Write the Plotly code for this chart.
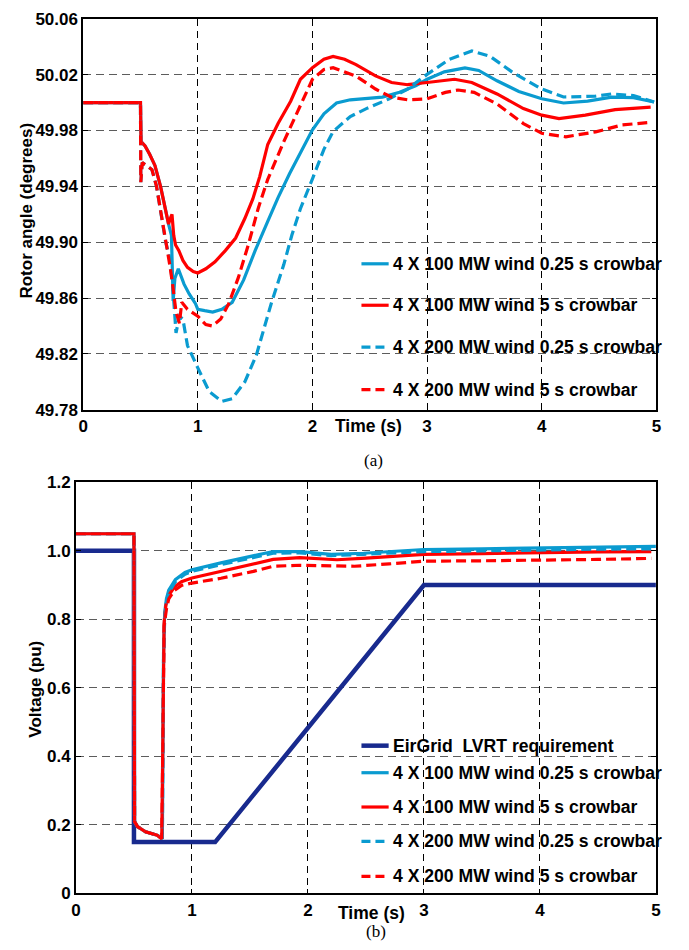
import plotly.graph_objects as go

# ---------------- (a) rotor angle ----------------
t_a_100_fast = [0, 0.5, 0.505, 0.54, 0.58, 0.626, 0.675, 0.71, 0.745, 0.77, 0.785, 0.80, 0.83,
                0.88, 0.925, 0.98, 1.0, 1.06, 1.13, 1.21, 1.3, 1.4, 1.5, 1.61, 1.7, 1.8, 1.895,
                2.0, 2.1, 2.21, 2.33, 2.45, 2.61, 2.76, 2.9, 3.0, 3.15, 3.33, 3.45, 3.61, 3.8,
                4.0, 4.19, 4.4, 4.61, 4.8, 4.98]
a_100_fast = [50.0, 50.0, 49.972, 49.969, 49.963, 49.955, 49.940, 49.926, 49.913, 49.905, 49.858,
              49.874, 49.881, 49.870, 49.863, 49.856, 49.852, 49.851, 49.850, 49.852, 49.857,
              49.873, 49.894, 49.915, 49.932, 49.949, 49.964, 49.9805, 49.992, 49.9997, 50.002,
              50.003, 50.0039, 50.0074, 50.012, 50.0167, 50.022, 50.0249, 50.023, 50.0156,
              50.008, 50.0027, 49.9997, 50.001, 50.0039, 50.0035, 50.0004]

t_a_100_slow = [0, 0.5, 0.505, 0.54, 0.58, 0.626, 0.675, 0.71, 0.745, 0.765, 0.775, 0.79, 0.806,
                0.835, 0.87, 0.91, 0.96, 1.0, 1.07, 1.15, 1.24, 1.33, 1.41, 1.48, 1.54, 1.61,
                1.7, 1.81, 1.895, 2.0, 2.1, 2.18, 2.28, 2.38, 2.55, 2.69, 2.83, 3.0, 3.24, 3.39,
                3.61, 3.84, 4.0, 4.15, 4.38, 4.64, 4.95]
a_100_slow = [50.0, 50.0, 49.972, 49.969, 49.963, 49.955, 49.940, 49.926, 49.913, 49.918, 49.920,
              49.905, 49.898, 49.894, 49.887, 49.882, 49.879, 49.878, 49.881, 49.886, 49.894,
              49.903, 49.917, 49.931, 49.947, 49.970, 49.985, 50.001, 50.0167, 50.025, 50.031,
              50.0331, 50.031, 50.0272, 50.0191, 50.0144, 50.0128, 50.0144, 50.0167, 50.0144,
              50.0062, 49.9957, 49.991, 49.9886, 49.991, 49.995, 49.9968]

t_a_200_fast = [0, 0.5, 0.503, 0.515, 0.55, 0.6, 0.64, 0.67, 0.72, 0.755, 0.78, 0.81, 0.84,
                0.87, 0.91, 1.0, 1.1, 1.21, 1.3, 1.41, 1.51, 1.64, 1.75, 1.82, 1.895, 2.0, 2.1,
                2.18, 2.33, 2.47, 2.67, 2.83, 3.0, 3.19, 3.39, 3.55, 3.75, 4.0, 4.19, 4.47,
                4.61, 4.8, 4.98]
a_200_fast = [50.0, 50.0, 49.943, 49.957, 49.955, 49.952, 49.940, 49.926, 49.900, 49.889, 49.870,
              49.835, 49.847, 49.845, 49.826, 49.810, 49.793, 49.786, 49.788, 49.800, 49.819,
              49.856, 49.884, 49.905, 49.924, 49.9454, 49.9665, 49.9793, 49.990, 49.9957,
              50.0027, 50.0097, 50.0202, 50.0308, 50.037, 50.0331, 50.0214, 50.0097, 50.004,
              50.0046, 50.0062, 50.005, 50.0004]

t_a_200_slow = [0, 0.5, 0.503, 0.515, 0.55, 0.6, 0.64, 0.67, 0.72, 0.755, 0.78, 0.81, 0.84,
                0.86, 0.91, 1.0, 1.07, 1.126, 1.2, 1.27, 1.355, 1.44, 1.526, 1.61, 1.75, 1.82,
                1.895, 2.0, 2.1, 2.18, 2.38, 2.55, 2.69, 2.83, 3.0, 3.16, 3.27, 3.41, 3.61,
                3.84, 4.0, 4.21, 4.47, 4.7, 4.92]
a_200_slow = [50.0, 50.0, 49.943, 49.957, 49.955, 49.952, 49.940, 49.926, 49.900, 49.884, 49.870,
              49.850, 49.842, 49.857, 49.852, 49.847, 49.841, 49.840, 49.845, 49.856, 49.875,
              49.898, 49.924, 49.945, 49.972, 49.985, 49.998, 50.0167, 50.0237, 50.025, 50.019,
              50.0097, 50.0038, 50.002, 50.0027, 50.0073, 50.009, 50.0073, 49.999, 49.985,
              49.978, 49.9755, 49.979, 49.984, 49.9856]

# ---------------- (b) voltage ----------------
t_lvrt = [0, 0.5, 0.5, 1.2, 3.0, 5.0]
v_lvrt = [1.0, 1.0, 0.15, 0.15, 0.9, 0.9]

t_v_100_fast = [0, 0.5, 0.505, 0.53, 0.6, 0.7, 0.745, 0.755, 0.765, 0.78, 0.80, 0.857, 0.94, 1.0,
                1.25, 1.53, 1.7, 1.93, 2.2, 2.48, 2.7, 3.0, 3.5, 4.0, 4.5, 5.0]
v_100_fast = [1.05, 1.05, 0.21, 0.195, 0.18, 0.17, 0.16, 0.70, 0.82, 0.86, 0.885, 0.916, 0.937,
              0.945, 0.965, 0.987, 0.998, 0.998, 0.990, 0.993, 0.997, 1.004, 1.006, 1.009,
              1.012, 1.013]

t_v_100_slow = [0, 0.5, 0.505, 0.53, 0.6, 0.7, 0.74, 0.752, 0.76, 0.775, 0.80, 0.85, 0.91, 1.0,
                1.25, 1.53, 1.7, 1.93, 2.1, 2.25, 2.5, 3.0, 3.5, 4.0, 4.5, 4.96]
v_100_slow = [1.05, 1.05, 0.21, 0.195, 0.18, 0.17, 0.16, 0.60, 0.79, 0.84, 0.87, 0.895, 0.91,
              0.921, 0.940, 0.962, 0.975, 0.980, 0.976, 0.974, 0.979, 0.990, 0.992, 0.995,
              0.997, 0.998]

t_v_200_fast = [0, 0.5, 0.505, 0.53, 0.6, 0.7, 0.745, 0.755, 0.765, 0.78, 0.80, 0.857, 0.94, 1.0,
                1.25, 1.53, 1.7, 1.93, 2.2, 2.48, 2.7, 3.0, 3.5, 4.0, 4.5, 5.0]
v_200_fast = [1.05, 1.05, 0.21, 0.195, 0.18, 0.17, 0.16, 0.68, 0.80, 0.85, 0.878, 0.910, 0.932,
              0.940, 0.960, 0.982, 0.993, 0.994, 0.986, 0.990, 0.993, 0.998, 1.000, 1.003,
              1.005, 1.006]

t_v_200_slow = [0, 0.5, 0.505, 0.53, 0.6, 0.7, 0.74, 0.752, 0.76, 0.78, 0.80, 0.85, 0.91, 1.0,
                1.25, 1.53, 1.7, 1.93, 2.2, 2.4, 2.7, 3.0, 3.5, 4.0, 4.5, 4.96]
v_200_slow = [1.05, 1.05, 0.21, 0.195, 0.18, 0.17, 0.16, 0.58, 0.78, 0.83, 0.86, 0.885, 0.899,
              0.906, 0.920, 0.940, 0.955, 0.958, 0.955, 0.955, 0.962, 0.970, 0.971, 0.972,
              0.975, 0.978]

labels = ["4 X 100 MW wind 0.25 s crowbar", "4 X 100 MW wind 5 s crowbar",
          "4 X 200 MW wind 0.25 s crowbar", "4 X 200 MW wind 5 s crowbar"]
lvrt_label = "EirGrid  LVRT requirement"

x_ticks = [0, 1, 2, 3, 4, 5]
a_ticks = [49.78, 49.82, 49.86, 49.90, 49.94, 49.98, 50.02, 50.06]
a_ticktext = ["49.78", "49.82", "49.86", "49.90", "49.94", "49.98", "50.02", "50.06"]
v_ticks = [0, 0.2, 0.4, 0.6, 0.8, 1.0, 1.2]
v_ticktext = ["0", "0.2", "0.4", "0.6", "0.8", "1.0", "1.2"]

# ---------------- styling ----------------
W, H = 689, 950
BLUE = "#0A9BD0"
RED = "#FF0000"
NAVY = "#182A8E"
DASH = "10px,5px"
SANS = "Liberation Sans, Arial, sans-serif"
LW = 3.2


def px_x(x):
    return x / W


def px_y(y):
    return 1 - y / H


styles = [(BLUE, "solid"), (RED, "solid"), (BLUE, DASH), (RED, DASH)]

fig = go.Figure()

series_a = [(t_a_100_fast, a_100_fast), (t_a_100_slow, a_100_slow),
            (t_a_200_fast, a_200_fast), (t_a_200_slow, a_200_slow)]
for (t, v), (c, d), name in zip(series_a, styles, labels):
    fig.add_trace(go.Scatter(x=t, y=v, mode="lines", name=name, showlegend=False,
                             line=dict(color=c, width=LW, dash=d), xaxis="x", yaxis="y"))

fig.add_trace(go.Scatter(x=t_lvrt, y=v_lvrt, mode="lines", name=lvrt_label, showlegend=False,
                         line=dict(color=NAVY, width=4.5), xaxis="x2", yaxis="y2"))
series_b = [(t_v_100_fast, v_100_fast), (t_v_100_slow, v_100_slow),
            (t_v_200_fast, v_200_fast), (t_v_200_slow, v_200_slow)]
for (t, v), (c, d), name in zip(series_b, styles, labels):
    fig.add_trace(go.Scatter(x=t, y=v, mode="lines", name=name, showlegend=False,
                             line=dict(color=c, width=LW, dash=d), xaxis="x2", yaxis="y2"))

tickfont = dict(family=SANS, size=17, color="black", weight="bold")
common_x = dict(range=[0, 5], tickvals=x_ticks, showgrid=True, gridcolor="black",
                griddash="7px,5px", gridwidth=1, showline=True, linecolor="black",
                linewidth=1.6, mirror="ticks", ticks="inside", ticklen=5, tickcolor="black",
                zeroline=False, tickfont=tickfont)
common_y = dict(showgrid=True, gridcolor="#5c5c5c", griddash="8px,5px", gridwidth=1.3,
                showline=True, linecolor="black", linewidth=1.6, mirror="ticks",
                ticks="inside", ticklen=5, tickcolor="black", zeroline=False, tickfont=tickfont)

fig.update_layout(
    width=W, height=H, margin=dict(l=0, r=0, t=0, b=0),
    paper_bgcolor="white", plot_bgcolor="white",
    xaxis=dict(domain=[px_x(79.3), px_x(661)], anchor="y", **common_x),
    yaxis=dict(domain=[px_y(409), px_y(10)], anchor="x", range=[49.78, 50.06],
               tickvals=a_ticks, ticktext=a_ticktext, **common_y),
    xaxis2=dict(domain=[px_x(72), px_x(660.5)], anchor="y2", **common_x),
    yaxis2=dict(domain=[px_y(902.5), px_y(483)], anchor="x2", range=[0, 1.2],
                tickvals=v_ticks, ticktext=v_ticktext, **common_y),
)

shapes = []
annotations = []


def legend_entry(y, color, dash, width, text):
    shapes.append(dict(type="line", xref="paper", yref="paper",
                       x0=px_x(361.7), x1=px_x(389.3), y0=px_y(y), y1=px_y(y),
                       line=dict(color=color, width=width, dash=dash)))
    annotations.append(dict(text=text, xref="paper", yref="paper", x=px_x(391.5), y=px_y(y),
                            xanchor="left", yanchor="middle", showarrow=False,
                            font=dict(family=SANS, size=17.6, color="black", weight="bold")))


for yy, (c, d), name in zip([260, 302.3, 345, 388.3], styles, labels):
    legend_entry(yy, c, "solid" if d == "solid" else "9px,5px", LW, name)

legend_entry(751.7, NAVY, "solid", 4.5, lvrt_label)
for yy, (c, d), name in zip([779.3, 814.3, 849.3, 885], styles, labels):
    legend_entry(yy, c, "solid" if d == "solid" else "9px,5px", LW, name)


def text_at(x, y, s, size, angle=0, family=SANS, weight="bold"):
    annotations.append(dict(text=s, xref="paper", yref="paper", x=px_x(x), y=px_y(y),
                            xanchor="center", yanchor="middle", showarrow=False, textangle=angle,
                            font=dict(family=family, size=size, color="black", weight=weight)))


text_at(368.6, 426, "Time (s)", 17.5)
text_at(372, 922, "Time (s)", 17.5)
text_at(22, 206, "Rotor angle (degrees)", 17, angle=-90)
text_at(31, 694, "Voltage (pu)", 17, angle=-90)
serif = "Liberation Serif, Times New Roman, serif"
text_at(374, 461, "(a)", 17, family=serif, weight="normal")
text_at(376, 941, "(b)", 17, family=serif, weight="normal")

fig.update_layout(shapes=shapes, annotations=annotations)
fig.write_html("out.html")
